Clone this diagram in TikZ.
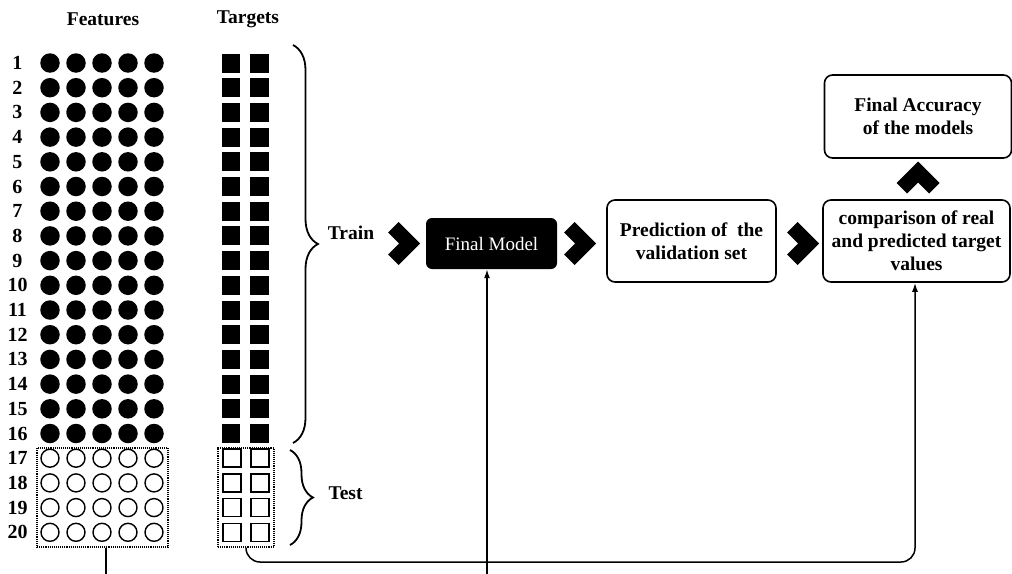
\documentclass[tikz,border=0pt]{standalone}
\usepackage{fontspec}
\setmainfont{Liberation Serif}
\usetikzlibrary{decorations.pathreplacing,arrows.meta}
\tikzset{
  lbl/.style={font=\fontsize{19.5}{23}\selectfont\bfseries, inner sep=0},
  num/.style={font=\fontsize{20}{24}\selectfont\bfseries, inner sep=0},
  fdot/.style={circle, fill=black, minimum size=19.5, inner sep=0},
  odot/.style={circle, draw=black, line width=1.4, minimum size=18, inner sep=0},
  fsq/.style={fill=black, minimum width=18.5, minimum height=19, inner sep=0},
  osq/.style={draw=black, line width=1.5, minimum width=18, minimum height=18, inner sep=0},
  dotbox/.style={draw=black, densely dotted, line width=1.1, inner sep=0},
  box/.style={draw=black, rounded corners=8, line width=1.6, align=center,
    font=\fontsize{19.5}{23}\selectfont\bfseries, inner sep=0},
  fmbox/.style={fill=black, rounded corners=6, text=white, align=center,
    font=\fontsize{19}{23}\selectfont, inner sep=0},
  conn/.style={draw=black, line width=1.5},
  arr/.style={-{Latex[length=9,width=6]}},
  bracestyle/.style={draw=black, line width=1.8, decorate},
  chev/.pic={\draw[line width=14.85, miter limit=10, line join=miter, line cap=butt]
     (-10.75,-16.25) -- (5.5,0) -- (-10.75,16.25);}
}
\begin{document}
\begin{tikzpicture}[x=1pt,y=-1pt]
\useasboundingbox (0,0) rectangle (1012,573);
\fill[white] (0,0) rectangle (1012,573);
\clip (0,0) rectangle (1012,573);

\node[lbl] (feat) at (103,19) {Features};
\node[lbl] (targ) at (248,19) {Targets};

\foreach \i in {1,...,20} {
  \pgfmathsetmacro\yy{63+(\i-1)*24.7}
  \node[num] (n\i) at (17.5,\yy) {\i};
  \ifnum\i<17
    \foreach \c/\x in {1/50,2/76,3/102,4/128,5/154} {
      \node[fdot] (c\i-\c) at (\x,\yy) {};
    }
    \node[fsq] (s\i-1) at (231,\yy) {};
    \node[fsq] (s\i-2) at (259.5,\yy) {};
  \else
    \foreach \c/\x in {1/50,2/76,3/102,4/128,5/154} {
      \node[odot] (c\i-\c) at (\x,\yy) {};
    }
    \node[osq] (s\i-1) at (232,\yy) {};
    \node[osq] (s\i-2) at (260,\yy) {};
  \fi
}

\node[dotbox, minimum width=131, minimum height=99] (fbox) at (102.5,497.5) {};
\node[dotbox, minimum width=56, minimum height=99] (tbox) at (246,497.5) {};

\draw[bracestyle, decoration={brace, amplitude=25}] (293,45) -- (293,443);
\draw[bracestyle, decoration={brace, amplitude=23}] (290,450) -- (290,545);

\node[lbl] (train) at (351,233) {Train};
\node[lbl] (test) at (345.5,493) {Test};

\pic at (404,243.5) {chev};
\pic at (580,243.5) {chev};
\pic at (803,243.5) {chev};
\pic[rotate=90] at (918,177.5) {chev};

\node[fmbox, minimum width=131, minimum height=51] (fm) at (491.5,243.5) {Final Model};
\node[box, minimum width=169, minimum height=82] (pred) at (691.5,241) {Prediction of\ \ the\\validation set};
\node[box, minimum width=187, minimum height=82] (comp) at (916.5,241) {comparison of real\\and predicted target\\values};
\node[box, minimum width=187, minimum height=83] (acc) at (918,116.5) {Final Accuracy\\of the models};

\coordinate (offA) at (106,600);
\coordinate (offB) at (487,600);
\coordinate (bend) at (0,562);
\draw[conn] (fbox.south -| offA) -- (offA);
\draw[conn, arr] (offB) -- (fm.south -| offB);
\draw[conn, arr, rounded corners=14] (tbox.south) |- ([xshift=-1.5]comp.south |- bend) -- ([xshift=-1.5]comp.south);
\end{tikzpicture}
\end{document}
